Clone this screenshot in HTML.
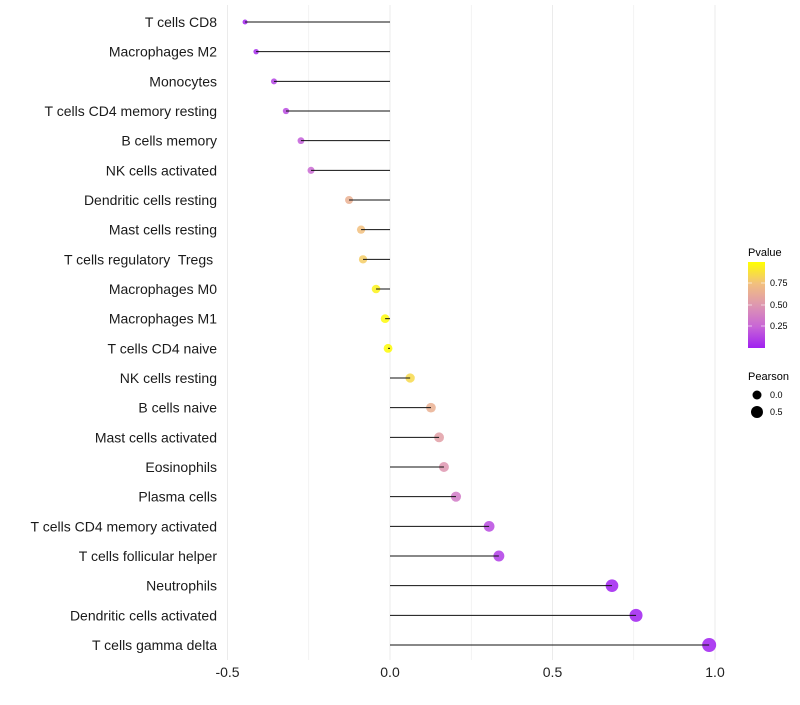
<!DOCTYPE html>
<html><head><meta charset="utf-8"><style>
body{margin:0;background:#fff;}
svg{font-family:"Liberation Sans",sans-serif;}
text{white-space:pre;}
</style></head><body>
<svg id="chart" width="800" height="700">
<defs><linearGradient id="pg" x1="0" y1="1" x2="0" y2="0">
<stop offset="0" stop-color="#A020F0"/><stop offset="0.25" stop-color="#C866D6"/><stop offset="0.5" stop-color="#DE97B0"/><stop offset="0.75" stop-color="#F2C07E"/><stop offset="1" stop-color="#FFFF00"/></linearGradient></defs>
<g id="grid"></g><g id="marks"></g><g id="labels"></g>
<g>
<text x="748" y="256" font-size="11">Pvalue</text>
<rect x="748" y="262" width="17" height="86" fill="url(#pg)"/>
<line x1="748" x2="752" y1="283" y2="283" stroke="#fff" stroke-opacity="0.6"/><line x1="761" x2="765" y1="283" y2="283" stroke="#fff" stroke-opacity="0.6"/>
<line x1="748" x2="752" y1="305" y2="305" stroke="#fff" stroke-opacity="0.6"/><line x1="761" x2="765" y1="305" y2="305" stroke="#fff" stroke-opacity="0.6"/>
<line x1="748" x2="752" y1="326" y2="326" stroke="#fff" stroke-opacity="0.6"/><line x1="761" x2="765" y1="326" y2="326" stroke="#fff" stroke-opacity="0.6"/>
<text x="770" y="286" font-size="9">0.75</text><text x="770" y="308" font-size="9">0.50</text><text x="770" y="329" font-size="9">0.25</text>
</g>
<g>
<text x="748" y="380" font-size="11">Pearson</text>
<circle cx="757" cy="395" r="4.5" fill="#000"/><text x="770" y="398" font-size="9">0.0</text>
<circle cx="757" cy="412" r="6" fill="#000"/><text x="770" y="415" font-size="9">0.5</text>
</g>
</svg>
<script>
const categories=["T cells CD8","Macrophages M2","Monocytes","T cells CD4 memory resting","B cells memory","NK cells activated","Dendritic cells resting","Mast cells resting","T cells regulatory  Tregs ","Macrophages M0","Macrophages M1","T cells CD4 naive","NK cells resting","B cells naive","Mast cells activated","Eosinophils","Plasma cells","T cells CD4 memory activated","T cells follicular helper","Neutrophils","Dendritic cells activated","T cells gamma delta"];
const pearson=[-0.446,-0.412,-0.357,-0.32,-0.274,-0.243,-0.126,-0.089,-0.083,-0.043,-0.015,-0.006,0.062,0.126,0.151,0.166,0.203,0.305,0.335,0.683,0.757,0.982];
const pvalues=[0.01,0.04,0.12,0.15,0.22,0.27,0.65,0.75,0.8,0.95,0.98,0.99,0.85,0.65,0.55,0.5,0.35,0.15,0.1,0.001,0.0,0.0];
const xTicks=[-0.5,0,0.5,1.0];
const xTickLabels=["-0.5","0.0","0.5","1.0"];
const NS="http://www.w3.org/2000/svg";
const x=v=>390+325*v;
const y=i=>22+i*29.667;
const r=v=>Math.max(1.5,Math.sqrt(Math.max(0,19.7+30*v)));
const stops=[[0,[160,32,240]],[0.25,[200,102,214]],[0.5,[222,151,176]],[0.75,[242,192,126]],[1,[255,255,0]]];
function col(p){for(let k=1;k<stops.length;k++){if(p<=stops[k][0]){const a=stops[k-1],b=stops[k],t=(p-a[0])/(b[0]-a[0]);return "rgb("+a[1].map((c,j)=>Math.round(c+(b[1][j]-c)*t)).join(",")+")";}}return "rgb(255,255,0)";}
function mk(t,at,p){const e=document.createElementNS(NS,t);for(const k in at)e.setAttribute(k,at[k]);p.appendChild(e);return e;}
const grid=document.getElementById('grid'),marks=document.getElementById('marks'),labels=document.getElementById('labels');
for(let v=-0.5;v<=1.001;v+=0.25){const g=mk('line',{x1:x(v),x2:x(v),y1:5,y2:660,stroke:'#ebebeb','stroke-width':Math.abs(v*2-Math.round(v*2))<0.01?1:0.6},grid);

}
xTicks.forEach((v,i)=>{const t=mk('text',{x:x(v),y:677,'font-size':14,'text-anchor':'middle',fill:'#222'},labels);t.textContent=xTickLabels[i];

});
categories.forEach((c,i)=>{
const t=mk('text',{x:217,y:y(i)+5,'font-size':14,'text-anchor':'end',fill:'#1a1a1a'},labels);t.textContent=c;


const d=mk('circle',{cx:x(pearson[i]),cy:y(i),r:r(pearson[i]),fill:col(pvalues[i]),'fill-opacity':0.85},marks);


const l=mk('line',{x1:x(0),x2:x(pearson[i]),y1:y(i),y2:y(i),stroke:'#111','stroke-width':1},marks);


});
</script>
</body></html>
